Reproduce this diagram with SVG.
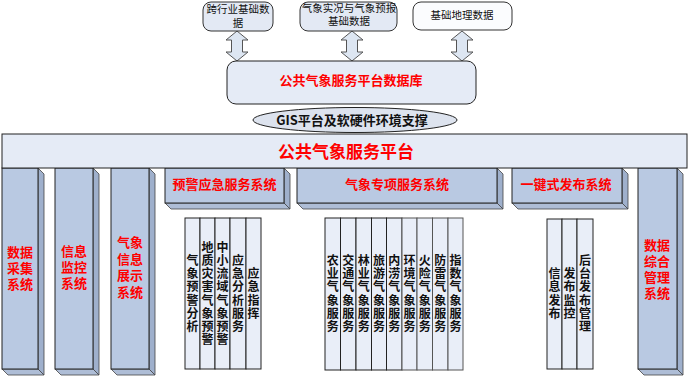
<svg xmlns="http://www.w3.org/2000/svg" width="692" height="379" viewBox="0 0 692 379">
<style>
text{font-family:"Noto Sans CJK SC","Noto Sans",sans-serif}
.red{fill:#ff0000;font-weight:bold;text-anchor:middle}
.blk{fill:#111;text-anchor:middle;font-size:12px;font-weight:bold}
.vt{fill:#111;text-anchor:middle;font-size:12px;font-weight:bold;writing-mode:vertical-rl;letter-spacing:1.2px}
.front{fill:#b9c9e2;stroke:#222;stroke-width:1}
.side{fill:#9fb0cc;stroke:#444;stroke-width:0.8}
.bot{fill:#aebdd6;stroke:#444;stroke-width:0.8}
.sub{fill:#e9eef8;stroke:#222;stroke-width:1}
.arr{fill:#dde6f2;stroke:#555;stroke-width:1}
.topbox{fill:#e3e9f4;stroke:#333;stroke-width:1}
</style>
<rect width="692" height="379" fill="#ffffff"/>

<g id="connectors">
<path class="arr" d="M237,31 L248,40 L242.5,40 L242.5,52 L248,52 L237,61 L226,52 L231.5,52 L231.5,40 L226,40 Z"/>
<path class="arr" d="M352,31 L363,40 L357.5,40 L357.5,52 L363,52 L352,61 L341,52 L346.5,52 L346.5,40 L341,40 Z"/>
<path class="arr" d="M462,31 L473,40 L467.5,40 L467.5,52 L473,52 L462,61 L451,52 L456.5,52 L456.5,40 L451,40 Z"/>
</g>

<g id="box-cross">
<rect class="topbox" x="203" y="2" width="70" height="29" rx="8"/>
<text class="blk" style="font-weight:normal;font-size:10.5px" x="238" y="13">跨行业基础数<tspan x="238" dy="14">据</tspan></text>
</g>
<g id="box-obs">
<rect class="topbox" x="300" y="2" width="97" height="29" rx="8"/>
<text class="blk" style="font-weight:normal;font-size:10.5px" x="349" y="12">气象实况与气象预报<tspan x="349" dy="13">基础数据</tspan></text>
</g>
<g id="box-geo">
<rect class="topbox" style="fill:#fbfcfe" x="413" y="2" width="99" height="28" rx="8"/>
<text class="blk" style="font-weight:normal;font-size:10.5px" x="462" y="19">基础地理数据</text>
</g>

<g id="database">
<rect x="227" y="61" width="249" height="43" rx="9" fill="#e5ebf6" stroke="#222" stroke-width="1"/>
<text class="red" font-size="13" x="351" y="85">公共气象服务平台数据库</text>
</g>

<g id="gis">
<ellipse cx="355" cy="120" rx="102" ry="12.5" fill="#dde3ee" stroke="#222" stroke-width="1"/>
<text x="352" y="124.5" font-size="13" font-weight="bold" fill="#111" text-anchor="middle">GIS平台及软硬件环境支撑</text>
</g>

<g id="col-collect">
<polygon class="side" points="38,168 44,174 44,375 38,369"/>
<polygon class="bot" points="2,369 38,369 44,375 8,375"/>
<rect class="front" x="2" y="168" width="36" height="201"/>
<text class="red" font-size="13" x="20" y="257">数据<tspan x="20" dy="16">采集</tspan><tspan x="20" dy="16">系统</tspan></text>
</g>
<g id="col-monitor">
<polygon class="side" points="93,168 99,174 99,375 93,369"/>
<polygon class="bot" points="55,369 93,369 99,375 61,375"/>
<rect class="front" x="55" y="168" width="38" height="201"/>
<text class="red" font-size="13" x="74" y="256">信息<tspan x="74" dy="16">监控</tspan><tspan x="74" dy="16">系统</tspan></text>
</g>
<g id="col-display">
<polygon class="side" points="149,168 155,174 155,375 149,369"/>
<polygon class="bot" points="111,369 149,369 155,375 117,375"/>
<rect class="front" x="111" y="168" width="38" height="201"/>
<text class="red" font-size="13" x="130" y="247">气象<tspan x="130" dy="16.5">信息</tspan><tspan x="130" dy="16.5">展示</tspan><tspan x="130" dy="16.5">系统</tspan></text>
</g>
<g id="col-manage">
<polygon class="side" points="677,168 683,174 683,375 677,369"/>
<polygon class="bot" points="638,369 677,369 683,375 644,375"/>
<rect class="front" x="638" y="168" width="39" height="201"/>
<text class="red" font-size="13" x="657" y="250">数据<tspan x="657" dy="16">综合</tspan><tspan x="657" dy="16">管理</tspan><tspan x="657" dy="16">系统</tspan></text>
</g>

<g id="hdr-warning">
<polygon class="side" points="284,168 290,174 290,209 284,203"/>
<polygon class="bot" points="165,203 284,203 290,209 171,209"/>
<rect class="front" x="165" y="168" width="119" height="35"/>
<text class="red" font-size="13" x="224.5" y="189">预警应急服务系统</text>
</g>
<g id="hdr-special">
<polygon class="side" points="497,168 503,174 503,209 497,203"/>
<polygon class="bot" points="297,203 497,203 503,209 303,209"/>
<rect class="front" x="297" y="168" width="200" height="35"/>
<text class="red" font-size="13" x="397" y="189">气象专项服务系统</text>
</g>
<g id="hdr-publish">
<polygon class="side" points="622,168 628,174 628,209 622,203"/>
<polygon class="bot" points="512,203 622,203 628,209 518,209"/>
<rect class="front" x="512" y="168" width="110" height="35"/>
<text class="red" font-size="13" x="566" y="189">一键式发布系统</text>
</g>

<g id="platform">
<rect x="2" y="134" width="685" height="34" fill="#e5ebf6" stroke="#222" stroke-width="1"/>
<text class="red" font-size="17" x="346" y="158">公共气象服务平台</text>
</g>

<g id="warning-subs">
<rect class="sub" x="185" y="218" width="15" height="151"/>
<rect class="sub" x="200" y="218" width="15" height="151"/>
<rect class="sub" x="215" y="218" width="15" height="151"/>
<rect class="sub" x="230" y="218" width="16" height="151"/>
<rect class="sub" x="246" y="218" width="15" height="151"/>
<text class="vt" x="192.5" y="294">气象预警分析</text>
<text class="vt" x="207.5" y="294">地质灾害气象预警</text>
<text class="vt" x="222.5" y="294">中小流域气象预警</text>
<text class="vt" x="238" y="294">应急分析服务</text>
<text class="vt" x="253.5" y="294">应急指挥</text>
</g>

<g id="special-subs">
<rect class="sub" x="325" y="218" width="15.5" height="152"/>
<rect class="sub" x="340.5" y="218" width="15.5" height="152"/>
<rect class="sub" x="356" y="218" width="15.5" height="152"/>
<rect class="sub" x="371.5" y="218" width="15" height="152"/>
<rect class="sub" x="386.5" y="218" width="15.5" height="152"/>
<rect class="sub" style="stroke:#555" x="402" y="218" width="15" height="152"/>
<rect class="sub" style="stroke:#555" x="417" y="218" width="15.5" height="152"/>
<rect class="sub" style="stroke:#555" x="432.5" y="218" width="15.5" height="152"/>
<rect class="sub" style="stroke:#555" x="448" y="218" width="15" height="152"/>
<text class="vt" x="332.7" y="294">农业气象服务</text>
<text class="vt" x="348.2" y="294">交通气象服务</text>
<text class="vt" x="363.7" y="294">林业气象服务</text>
<text class="vt" x="379" y="294">旅游气象服务</text>
<text class="vt" x="394.2" y="294">内涝气象服务</text>
<text class="vt" x="409.5" y="294">环境气象服务</text>
<text class="vt" x="424.7" y="294">火险气象服务</text>
<text class="vt" x="440.2" y="294">防雷气象服务</text>
<text class="vt" x="455.5" y="294">指数气象服务</text>
</g>

<g id="publish-subs">
<rect class="sub" x="547" y="219" width="15" height="150"/>
<rect class="sub" x="562" y="219" width="15" height="150"/>
<rect class="sub" x="577" y="219" width="16" height="150"/>
<text class="vt" x="554.5" y="294">信息发布</text>
<text class="vt" x="569.5" y="294">发布监控</text>
<text class="vt" x="585" y="294">后台发布管理</text>
</g>
</svg>
